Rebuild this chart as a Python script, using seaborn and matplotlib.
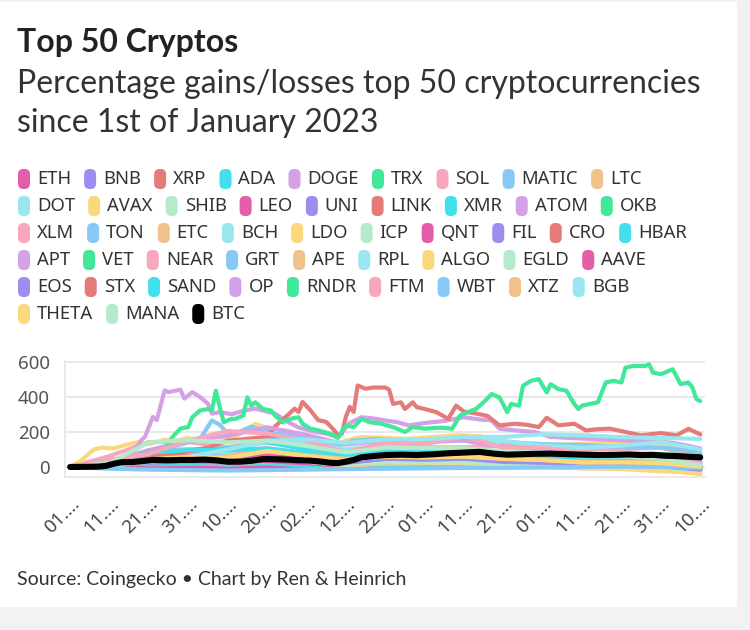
import pandas as pd
import seaborn as sns
import matplotlib.pyplot as plt
from matplotlib.patches import FancyBboxPatch, Rectangle
from matplotlib.transforms import IdentityTransform

# Percentage change since 1 Jan 2023, day index 0 = 2023-01-01
START = pd.Timestamp("2023-01-01")
GRID_DAYS = list(range(0, 161, 10))

coins = ["ETH", "BNB", "XRP", "ADA", "DOGE", "TRX", "SOL", "MATIC", "LTC",
         "DOT", "AVAX", "SHIB", "LEO", "UNI", "LINK", "XMR", "ATOM", "OKB",
         "XLM", "TON", "ETC", "BCH", "LDO", "ICP", "QNT", "FIL", "CRO", "HBAR",
         "APT", "VET", "NEAR", "GRT", "APE", "RPL", "ALGO", "EGLD", "AAVE",
         "EOS", "STX", "SAND", "OP", "RNDR", "FTM", "WBT", "XTZ", "BGB",
         "THETA", "MANA", "BTC"]
legend_rows = [9, 9, 10, 9, 9, 3]

cycle = ["#e35da9", "#9b8ef0", "#e57b79", "#41e0ea", "#d4a1e7", "#41e899",
         "#f9a7bc", "#87c9f4", "#f1c18c", "#98e6ee", "#fbd87c", "#b6ebc9"]

# series on a 10-day grid
ETH = [0, 11, 39, 33, 27, 42, 38, 23, 45, 52, 58, 62, 53, 50, 51, 56, 46]
BNB = [0, 12, 22, 26, 26, 28, 22, 16, 34, 28, 32, 34, 34, 28, 26, 24, 4]
XRP = [0, 6, 20, 20, 12, 17, 12, 9, 32, 56, 50, 35, 38, 26, 35, 50, 50]
ADA = [0, 27, 47, 59, 51, 63, 39, 31, 47, 59, 63, 59, 59, 47, 51, 51, 6]
DOGE = [0, 7, 24, 33, 17, 24, 14, 0, 7, 39, 30, 16, 11, 3, 3, 3, -14]
TRX = [0, 0, 13, 16, 16, 27, 24, 16, 20, 20, 20, 16, 27, 24, 36, 45, 29]
SOL = [0, 62, 142, 142, 112, 153, 122, 82, 112, 112, 112, 122, 122, 102, 102, 110, 52]
MATIC = [0, 12, 32, 47, 62, 97, 58, 45, 51, 49, 45, 32, 32, 12, 17, 18, -21]
LTC = [0, 11, 26, 43, 33, 43, 29, 4, 26, 31, 34, 29, 29, 11, 29, 33, 14]
DOT = [0, 15, 38, 49, 40, 63, 38, 24, 43, 45, 47, 36, 31, 22, 20, 20, 1]
AVAX = [0, 23, 63, 93, 61, 106, 61, 38, 63, 65, 63, 61, 56, 36, 33, 30, 6]
SHIB = [0, 8, 39, 45, 47, 63, 39, 20, 30, 33, 30, 22, 18, 6, 6, 4, -20]
LEO = [0, -3, -8, -6, -5, -4, -6, -8, -5, -3, 0, 3, 5, 6, 8, 9, 7]
UNI = [0, 13, 23, 27, 21, 35, 21, 8, 19, 19, 15, 6, 0, -4, -4, -4, -15]
LINK = [0, 7, 20, 25, 23, 34, 25, 13, 30, 32, 32, 27, 25, 14, 14, 11, -2]
XMR = [0, 13, 20, 23, 13, 22, 6, -4, 6, 8, 13, 6, 10, 1, 1, 3, -4]
ATOM = [0, 12, 37, 49, 39, 57, 34, 17, 25, 22, 26, 20, 18, 9, 14, 11, -11]
OKB = [0, 6, 40, 58, 74, 89, 77, 55, 70, 66, 74, 74, 74, 66, 74, 74, 62]
XLM = [0, 7, 28, 31, 21, 31, 22, 8, 31, 53, 46, 35, 35, 24, 26, 28, 14]
TON = [0, 40, 70, 65, 75, 70, 65, 65, 70, 70, 75, 70, 70, 55, 45, 30, 10]
ETC = [0, 24, 40, 37, 27, 50, 34, 11, 27, 27, 34, 27, 21, 11, 15, 13, -1]
BCH = [0, 6, 39, 34, 28, 42, 32, 13, 32, 34, 32, 26, 24, 13, 18, 16, 8]
ICP = [0, 22, 64, 82, 88, 97, 70, 46, 61, 61, 73, 55, 49, 49, 49, 46, 16]
QNT = [0, 10, 36, 33, 31, 34, 21, 7, 20, 17, 12, 8, 6, 3, 5, 0, -9]
FIL = [0, 21, 66, 86, 93, 169, 131, 76, 103, 93, 93, 83, 76, 52, 59, 55, 24]
CRO = [0, 15, 40, 45, 38, 51, 35, 15, 27, 29, 31, 24, 20, 9, 11, 9, -4]
HBAR = [0, 31, 94, 100, 106, 140, 100, 71, 91, 100, 94, 77, 71, 51, 46, 43, 26]
VET = [0, 10, 42, 55, 48, 74, 55, 35, 55, 48, 55, 35, 35, 23, 23, 23, 3]
NEAR = [0, 20, 76, 100, 84, 108, 76, 44, 60, 56, 60, 44, 44, 28, 28, 20, 4]
APE = [0, 28, 58, 72, 47, 58, 31, 8, 17, 19, 19, 6, 6, -8, -8, -17, -39]
RPL = [0, 26, 68, 100, 84, 147, 137, 100, 126, 137, 153, 147, 121, 110, 121, 142, 100]
ALGO = [0, 18, 53, 59, 47, 71, 41, 18, 29, 24, 24, 12, 6, -6, -12, -24, -35]
EGLD = [0, 18, 42, 55, 42, 55, 30, 12, 27, 27, 27, 21, 15, 3, 3, -3, -18]
AAVE = [0, 15, 58, 63, 54, 67, 46, 25, 46, 46, 50, 35, 27, 19, 23, 19, 0]
EOS = [0, 8, 24, 32, 24, 44, 35, 24, 47, 41, 47, 29, 24, 12, 9, 4, -15]
SAND = [0, 22, 81, 97, 95, 105, 81, 49, 70, 70, 76, 62, 57, 41, 41, 35, 0]
OP = [0, 30, 96, 150, 177, 226, 183, 128, 150, 145, 150, 112, 107, 74, 68, 58, 25]
FTM = [0, 40, 74, 150, 205, 190, 150, 84, 137, 130, 174, 110, 110, 80, 68, 55, 21]
WBT = [0, -10, -15, -18, -20, -18, -15, -12, -10, -8, -5, -5, -3, 0, 2, 0, -5]
XTZ = [0, 14, 39, 50, 60, 88, 67, 46, 57, 56, 60, 46, 39, 29, 29, 25, 0]
BGB = [0, 7, 29, 57, 100, 150, 157, 136, 157, 157, 171, 171, 186, 180, 170, 165, 160]
THETA = [0, 13, 43, 59, 50, 91, 62, 40, 62, 54, 59, 47, 40, 25, 26, 22, 3]
MANA = [0, 23, 140, 153, 140, 150, 120, 83, 110, 107, 107, 90, 80, 60, 60, 47, 10]

# series read at their own days
LDO_DAYS = [0, 3, 6, 8, 11, 14, 17, 20, 24, 27, 30, 33, 37, 41, 44, 47, 49, 52,
            56, 60, 64, 67, 70, 74, 80, 86, 92, 98, 104, 110, 116, 122, 128,
            134, 140, 146, 152, 156, 160]
LDO = [0, 40, 100, 110, 105, 125, 140, 130, 155, 150, 165, 150, 140, 160, 200,
       245, 230, 200, 190, 175, 140, 120, 150, 170, 165, 160, 170, 180, 175,
       150, 130, 125, 130, 135, 140, 130, 115, 100, 80]
GRT_DAYS = [0, 5, 10, 15, 20, 25, 30, 33, 36, 38, 40, 43, 46, 48, 52, 56, 60,
            64, 68, 72, 78, 85, 92, 100, 106, 112, 120, 130, 140, 150, 155, 160]
GRT = [0, 10, 25, 60, 90, 110, 140, 160, 265, 240, 190, 200, 230, 215, 190,
       185, 170, 140, 120, 150, 160, 150, 155, 160, 150, 140, 130, 125, 115,
       110, 100, 80]
APT_DAYS = [0, 5, 9, 13, 16, 18, 19, 21, 22, 24, 25, 28, 29, 31, 33, 35, 36,
            38, 41, 44, 47, 50, 52, 55, 58, 62, 65, 68, 71, 74, 77, 80, 83, 86,
            90, 95, 100, 104, 107, 109, 113, 118, 122, 127, 132, 137, 142, 147,
            152, 156, 160]
APT = [0, 5, 30, 50, 80, 150, 171, 285, 266, 436, 426, 440, 389, 426, 398, 360,
       304, 312, 300, 320, 332, 315, 304, 260, 225, 200, 190, 170, 250, 283,
       276, 265, 255, 237, 250, 262, 283, 270, 265, 218, 208, 199, 171, 165,
       160, 155, 150, 145, 140, 125, 105]
STX_DAYS = [0, 5, 10, 15, 20, 25, 30, 35, 40, 45, 50, 52, 55, 57, 58, 59, 61,
            63, 65, 67, 68, 69, 70, 71, 72, 73, 75, 77, 80, 81, 82, 84, 85, 87,
            88, 90, 93, 96, 98, 100, 103, 106, 109, 113, 116, 119, 121, 124,
            128, 131, 134, 137, 141, 145, 150, 154, 157, 160]
STX = [0, 10, 25, 40, 55, 70, 90, 110, 150, 160, 172, 230, 290, 332, 313, 370,
       323, 266, 257, 210, 181, 190, 285, 342, 313, 464, 445, 452, 452, 440,
       359, 368, 330, 368, 340, 330, 312, 274, 349, 315, 305, 290, 237, 246,
       240, 227, 280, 237, 246, 208, 215, 218, 199, 180, 193, 180, 217, 185]
RNDR_DAYS = [0, 5, 10, 15, 20, 24, 26, 28, 30, 31, 33, 35, 36, 37, 38, 39, 41,
             42, 44, 45, 46, 47, 49, 51, 52, 54, 56, 58, 59, 61, 63, 66, 68, 70,
             72, 74, 76, 79, 82, 85, 87, 90, 94, 97, 99, 101, 103, 105, 107,
             109, 111, 112, 114, 115, 117, 119, 121, 122, 124, 126, 128, 129,
             130, 132, 134, 136, 138, 140, 141, 143, 146, 147, 148, 150, 153,
             155, 157, 158, 159, 160]
RNDR = [0, 10, 30, 55, 80, 100, 171, 218, 227, 283, 321, 330, 321, 434, 340,
        255, 274, 274, 293, 396, 349, 368, 330, 321, 293, 255, 274, 283, 246,
        218, 208, 190, 165, 237, 227, 274, 255, 246, 227, 199, 227, 218, 224,
        218, 293, 312, 330, 368, 415, 396, 312, 359, 349, 462, 490, 500, 424,
        471, 443, 434, 359, 330, 349, 359, 368, 481, 490, 481, 565, 575, 575,
        584, 537, 528, 556, 471, 481, 452, 387, 375]
BTC_DAYS = [0, 4, 7, 9, 11, 13, 16, 19, 21, 25, 28, 31, 34, 37, 40, 43, 46, 49,
            52, 55, 58, 61, 64, 66, 68, 70, 72, 74, 77, 80, 84, 88, 92, 96, 100,
            104, 106, 108, 111, 114, 118, 122, 126, 130, 134, 138, 142, 145,
            148, 151, 154, 157, 160]
BTC = [0, 1, 2, 6, 18, 27, 28, 35, 40, 38, 40, 40, 42, 38, 30, 30, 35, 45, 44,
       42, 38, 36, 30, 24, 22, 30, 40, 55, 62, 68, 70, 68, 72, 78, 82, 86, 80,
       75, 70, 72, 75, 76, 73, 70, 68, 69, 71, 68, 69, 64, 62, 58, 55]

custom = {"LDO": (LDO_DAYS, LDO), "GRT": (GRT_DAYS, GRT), "APT": (APT_DAYS, APT),
          "STX": (STX_DAYS, STX), "RNDR": (RNDR_DAYS, RNDR),
          "BTC": (BTC_DAYS, BTC)}

rows = []
for coin in coins:
    days, vals = custom.get(coin, (GRID_DAYS, globals()[coin]))
    for d, v in zip(days, vals):
        rows.append({"coin": coin, "day": d, "pct": v})
df = pd.DataFrame(rows)

palette = {c: cycle[i % len(cycle)] for i, c in enumerate(coins[:-1])}
palette["BTC"] = "#000000"

sns.set_style("white")
plt.rcParams["font.family"] = ["Noto Sans", "DejaVu Sans"]

W, H = 750, 630
fig = plt.figure(figsize=(W / 100, H / 100), dpi=100, facecolor="#f2f2f2")
fig.add_artist(Rectangle((0, 1 - 607 / H), 737 / W, 605 / H,
                         transform=fig.transFigure, facecolor="white",
                         edgecolor="none", zorder=-5))

ax = fig.add_axes([65 / W, 1 - 477 / H, 640 / W, 116 / H])
others = df[df.coin != "BTC"]
sns.lineplot(data=others, x="day", y="pct", hue="coin", hue_order=coins[:-1],
             palette=palette, estimator=None, linewidth=3.0, legend=False, ax=ax)
sns.lineplot(data=df[df.coin == "BTC"], x="day", y="pct", color="black",
             estimator=None, linewidth=4.4, legend=False, ax=ax)
for ln in ax.lines:
    ln.set_solid_joinstyle("round")
    ln.set_solid_capstyle("round")

ax.set_xlim(-1.3, 161.2)
ax.set_ylim(-57, 603)
ax.set_yticks([0, 200, 400, 600])
ax.yaxis.grid(True, color="#e8e8e8", linewidth=1.5)
ax.tick_params(axis="y", length=7, color="#e8e8e8", width=1.5, pad=4,
               labelsize=13.5, labelcolor="#555555")

all_days = list(range(0, 161))
dates = [START + pd.Timedelta(days=d) for d in all_days]
ax.set_xticks(all_days)
ax.set_xticklabels([dt.strftime("%d") + ".…" if d % 10 == 0 else ""
                    for d, dt in zip(all_days, dates)],
                   rotation=45, ha="right", rotation_mode="anchor")
ax.tick_params(axis="x", length=8, color="#e4e4e4", width=0.8, pad=5,
               labelsize=13.5, labelcolor="#444444")
ax.set_xlabel("")
ax.set_ylabel("")
for side in ["top", "right"]:
    ax.spines[side].set_visible(False)
for side in ["left", "bottom"]:
    ax.spines[side].set_color("#e6e6e6")
    ax.spines[side].set_linewidth(1.2)

# titles
fig.text(17 / W, 1 - 52 / H, "Top 50 Cryptos", family="Lato", weight="bold",
         fontsize=23, color="#222222", va="baseline")
fig.text(17 / W, 1 - 93 / H, "Percentage gains/losses top 50 cryptocurrencies",
         family="Lato", fontsize=23, color="#333333", va="baseline")
fig.text(17 / W, 1 - 132 / H, "since 1st of January 2023",
         family="Lato", fontsize=23, color="#333333", va="baseline")
fig.text(17 / W, 1 - 585 / H, "Source: Coingecko • Chart by Ren & Heinrich",
         family="Lato", fontsize=14, color="#333333", va="baseline")

# legend, laid out row by row
renderer = fig.canvas.get_renderer()
i = 0
for r, n in enumerate(legend_rows):
    yc = 179 + 27 * r
    x = 18
    for _ in range(n):
        coin = coins[i]
        fig.add_artist(FancyBboxPatch((x, H - yc - 10), 12, 20,
                                      boxstyle="round,pad=0,rounding_size=5.5",
                                      transform=IdentityTransform(),
                                      facecolor=palette[coin], edgecolor="none"))
        t = fig.text((x + 19) / W, 1 - yc / H, coin, fontsize=13.3,
                     color="#333333", va="center", ha="left")
        x += 19 + t.get_window_extent(renderer).width + 13
        i += 1

fig.savefig("out.png", dpi=100, facecolor=fig.get_facecolor())
